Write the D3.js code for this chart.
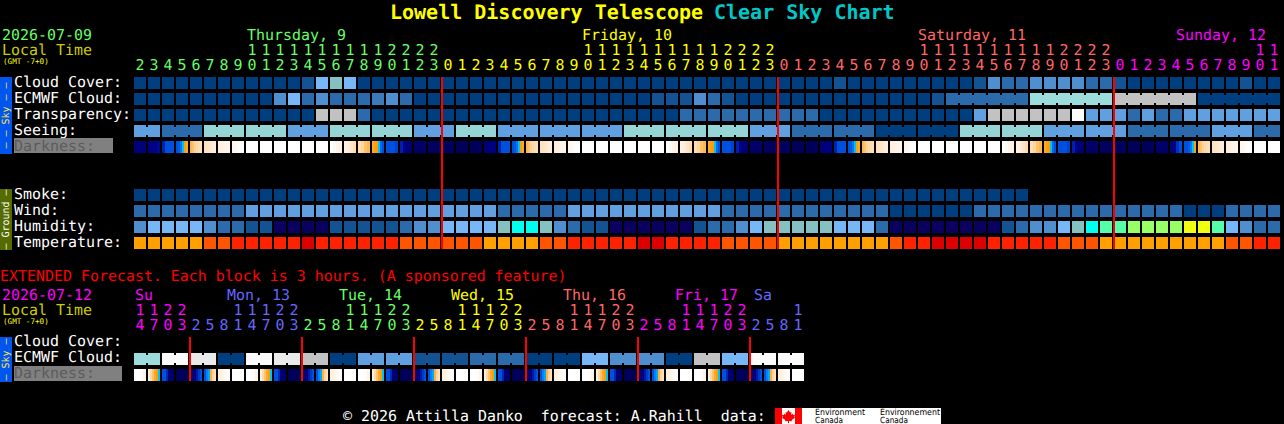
<!DOCTYPE html>
<html>
<head>
<meta charset="utf-8">
<script src="https://cdn.jsdelivr.net/npm/d3@7/dist/d3.min.js"></script>
<style>
html,body{margin:0;padding:0;background:#000;overflow:hidden}
svg{display:block}
text{font-family:"DejaVu Sans Mono",monospace;white-space:pre;text-rendering:geometricPrecision}
</style>
</head>
<body>
<svg id="c" width="1284" height="424"></svg>
<script>
// ---------- main forecast: one entry per hour ----------
const hours = [2,3,4,5,6,7,8,9,10,11,12,13,14,15,16,17,18,19,20,21,22,23,
 0,1,2,3,4,5,6,7,8,9,10,11,12,13,14,15,16,17,18,19,20,21,22,23,
 0,1,2,3,4,5,6,7,8,9,10,11,12,13,14,15,16,17,18,19,20,21,22,23,
 0,1,2,3,4,5,6,7,8,9,10,11];
const dayNames = ["Thursday, 9","Friday, 10","Saturday, 11","Sunday, 12"];
const dayStarts = [0,22,46,70];

const cloud = [0,0,0,0,0,0,0,0,0,0,0,0,1,6,7,6,0,0,0,0,0,0,
 0,0,0,0,0,0,0,0,0,0,0,0,0,0,0,0,0,0,0,0,0,0,0,0,
 0,0,0,0,1,0,0,0,0,0,0,0,0,0,1,4,2,2,4,4,4,4,2,2,
 1,0,0,0,0,0,0,0,0,1,0,0];
const ecmwfHourly = [0,0,0,0,0,0,0,0,0,0,4,6,2,4,2,2,2,3,4,2,0,0,
 0,0,0,0,0,0,0,0,0,0,0,0,0,0,0,1,1,1,4,2,1,0,0,0,
 0,0,0,0,0,0,0,0,0,0,0,1];
const ecmwfSpans = [6,6,6,6];
const ecmwfSpanLevels = [2,12,8,0];
const transparency = [0,0,0,0,0,0,0,0,0,0,0,0,0,8,8,8,2,0,0,0,0,0,
 0,0,0,0,0,0,0,0,0,0,0,0,0,0,0,0,0,2,2,2,2,2,2,2,
 2,2,2,0,0,0,0,0,0,0,0,0,0,0,5,8,8,8,8,8,8,10,5,5,
 5,2,5,2,2,5,5,5,5,5,5,5];
const seeingSpans = [2,3,3,3,3,3,3,3,3,3,3,3,3,3,3,3,3,3,3,3,3,3,3,3,3,3,3,2];
const seeingLevels = [5,2,11,11,5,11,11,5,11,5,5,5,11,11,11,5,2,2,0,0,11,11,5,5,2,2,5,2];
const darkness = [
 [.07],[.09,.1,.1,.11],[.14,.2,.2,.2],[.2,.22,.28,.35,.4,.43],[.47,.5,.55,.58,.6,.62],[.63,.65,.67,.7],
 [.72,.75,.8,.82],[.85,.9,.95,1],[1],[1],[1],[1],[1],[1],[1,.9,.8,.75],[.75,.7,.65,.6],[.6,.55,.5,.47],
 [.43,.41,.4,.35,.25,.2],[.2,.2,.2,.18],[.14,.1,.08,.05],[.03],[.02],
 [.01],[0],[0],[.06,.09],[.14,.2,.2,.2],[.2,.22,.28,.35,.4,.43],[.47,.5,.55,.58,.6,.62],[.63,.65,.67,.7],
 [.72,.75,.8,.82],[.85,.9,.95,1],[1],[1],[1],[1],[1],[1],[1,.9,.8,.75],[.75,.7,.65,.6],[.6,.55,.5,.47],
 [.43,.41,.4,.35,.25,.2],[.2,.2,.2,.18],[.14,.1,.08,.05],[.03],[.02],
 [.01],[0],[0],[.06,.09],[.14,.2,.2,.2],[.2,.22,.28,.35,.4,.43],[.47,.5,.55,.58,.6,.62],[.63,.65,.67,.7],
 [.72,.75,.8,.82],[.85,.9,.95,1],[1],[1],[1],[1],[1],[1],[1,.9,.8,.75],[.75,.7,.65,.6],[.6,.55,.5,.47],
 [.43,.41,.4,.35,.25,.2],[.2,.2,.2,.18],[.14,.1,.08,.05],[.03],[.02],
 [.01],[0],[0],[.04],[.05,.1,.16,.2],[.2,.2,.22,.28,.35,.4],[.47,.5,.55,.58,.6,.62],[.63,.65,.67,.7],
 [.72,.75,.8,.82],[.85,.9,.95,1],[1],[1]
];
const smoke = [0,0,0,0,0,0,0,0,0,0,0,0,0,0,0,0,0,0,0,0,0,0,0,0,0,0,0,0,0,0,0,0,
 0,0,0,0,0,0,0,0,0,0,0,0,0,0,0,0,0,0,0,0,0,0,0,0,0,0,0,0,0,0,0,0];
const wind = [2,2,2,2,2,2,2,2,5,5,5,5,5,5,5,5,5,5,5,5,5,5,
 5,5,5,5,2,2,2,2,2,5,5,5,5,5,5,5,5,5,5,5,2,2,2,2,
 2,2,2,2,2,2,2,2,0,0,0,0,0,0,2,2,2,2,2,2,2,2,2,2,
 2,2,2,2,2,0,0,0,2,2,2,2];
const humidity = [4,6,6,6,6,4,2,2,1,1,13,13,13,13,1,1,1,1,1,2,4,4,
 6,6,6,6,7,14,14,7,4,2,1,1,13,13,13,13,13,13,1,2,2,4,6,7,
 7,7,7,7,6,6,6,2,13,13,13,13,13,13,13,13,1,2,4,4,6,7,14,15,
 15,16,16,16,16,17,17,15,6,4,2,2];
const temperature = [0,0,0,0,0,1,1,2,2,2,2,2,3,2,2,2,2,2,2,1,1,1,
 1,1,1,0,0,0,0,1,1,2,2,2,2,2,3,3,2,2,2,2,1,1,1,1,
 0,0,0,0,0,0,0,0,1,2,2,3,3,3,3,2,2,2,2,2,1,1,1,0,
 0,0,0,0,0,0,0,0,1,1,2,2];

// ---------- extended forecast: one entry per 3 hours ----------
const extHours = [14,17,20,23,
 2,5,8,11,14,17,20,23, 2,5,8,11,14,17,20,23, 2,5,8,11,14,17,20,23,
 2,5,8,11,14,17,20,23, 2,5,8,11,14,17,20,23, 2,5,8,11];
const extDayNames = ["Su","Mon, 13","Tue, 14","Wed, 15","Thu, 16","Fri, 17","Sa"];
const extDayStarts = [0,4,12,20,28,36,44];
const extEcmwfSpans = [2,2,2,2,2,2,2,2,2,2,2,2,2,2,2,2,2,2,2,2,2,2,2,2];
const extEcmwf = [12,10,9,0,10,9,8,0,5,5,1,1,2,2,0,0,6,4,4,0,8,6,10,10];
const extDarkness = [
 [1,1,.95,.8],[.7,.6,.5,.43,.4,.35],[.2,.2,.15,.08,.03,.03],[0],
 [.02,.05,.1,.13,.17,.2],[.2,.3,.33,.45,.55,.62],[.72,.8,.9,1],[1],
 [1,1,.95,.8],[.7,.6,.5,.43,.4,.35],[.2,.2,.15,.08,.03,.03],[0],
 [.02,.05,.1,.13,.17,.2],[.2,.3,.33,.45,.55,.62],[.72,.8,.9,1],[1],
 [1,1,.95,.8],[.7,.6,.5,.43,.4,.35],[.2,.2,.15,.08,.03,.03],[0],
 [.02,.05,.1,.13,.17,.2],[.2,.3,.33,.45,.55,.62],[.72,.8,.9,1],[1],
 [1,1,.95,.8],[.7,.6,.5,.43,.4,.35],[.2,.2,.15,.08,.03,.03],[0],
 [.02,.05,.1,.13,.17,.2],[.2,.3,.33,.45,.55,.62],[.72,.8,.9,1],[1],
 [1,1,.95,.8],[.7,.6,.5,.43,.4,.35],[.2,.2,.15,.08,.03,.03],[0],
 [.02,.05,.1,.13,.17,.2],[.2,.3,.33,.45,.55,.62],[.72,.8,.9,1],[1],
 [1,1,.95,.8],[.7,.6,.5,.43,.4,.35],[.2,.2,.15,.08,.03,.03],[0],
 [.02,.05,.1,.13,.17,.2],[.2,.3,.33,.45,.55,.62],[.72,.8,.9,1],[1]
];

// ---------- scales ----------
const x = d3.scaleLinear().domain([0,82]).range([134,1282]);
const cell = 12;
const sky = d3.scaleOrdinal()
  .domain(d3.range(18))
  .range(["#003f7f","#135393","#2b6bab","#3b7bbb","#4f8fcf","#60a0e0","#77b7f7","#85c1c1",
          "#c2c2c2","#eaeaea","#fbfbfb","#95d5d5","#9cdcdc","#0a0060","#00ffee","#55ffaa","#99ff66","#eeff11"]);
const heat = d3.scaleOrdinal().domain([0,1,2,3]).range(["#ffa000","#ff5500","#ff2200","#dd0000"]);
const dark = d3.scaleLinear()
  .domain([0,.1,.2,.3,.35,.4,.45,.55,.7,1])
  .range(["#00005a","#000088","#0050e0","#0080ff","#00c0ff","#ffa000","#ffb040","#ffd49a","#ffeedd","#ffffff"]);
const dayColor = d3.scaleOrdinal()
  .domain(["green","yellow","red","magenta","blue"])
  .range(["#66ff66","#ffff00","#ff6666","#ff00ff","#6666ff"]);
const mainDayColors = ["green","yellow","red","magenta"];
const extDayColors = ["magenta","blue","green","yellow","red","magenta","blue"];

const svg = d3.select("#c");
svg.append("rect").attr("width",1284).attr("height",424).attr("fill","#000");
const font = 14.95;

function label(t,px,py,fill,size,extra){
  const s = svg.append("text").attr("x",px).attr("y",py).attr("fill",fill)
    .attr("font-size",size||font).text(t);
  if(extra) extra(s);
  return s;
}
function cells(values,y,scale){
  svg.append("g").attr("shape-rendering","crispEdges").selectAll("rect").data(values).join("rect")
    .attr("x",(d,i)=>x(i)).attr("y",y).attr("width",cell).attr("height",cell).attr("fill",d=>scale(d));
}
function spans(lengths,levels,start,y,scale){
  let at = start;
  const g = svg.append("g").attr("shape-rendering","crispEdges");
  lengths.forEach((len,k)=>{
    d3.range(len).forEach(j=>{
      g.append("rect").attr("x",x(at+j)).attr("y",y).attr("width",cell).attr("height",cell).attr("fill",scale(levels[k]));
      if(j<len-1) g.append("rect").attr("x",x(at+j)+cell).attr("y",y+2).attr("width",2).attr("height",cell-4).attr("fill",scale(levels[k]));
    });
    at += len;
  });
}
function shade(values,y){
  const g = svg.append("g").attr("shape-rendering","crispEdges");
  values.forEach((samples,i)=>{
    const b = d3.scaleBand().domain(d3.range(samples.length)).range([x(i),x(i)+cell]);
    samples.forEach((v,j)=>g.append("rect").attr("x",b(j)).attr("y",y).attr("width",Math.ceil(b.bandwidth()))
      .attr("height",cell).attr("fill",dark(v)));
  });
}
function hourDigits(list,starts,colors,yTens,yUnits){
  const colorOf = i=>dayColor(colors[d3.bisectRight(starts,i)-1]);
  list.forEach((h,i)=>{
    const cx = x(i)+cell/2;
    if(h>=10) label(String(Math.floor(h/10)),cx,yTens,colorOf(i),font,s=>s.attr("text-anchor","middle"));
    label(String(h%10),cx,yUnits,colorOf(i),font,s=>s.attr("text-anchor","middle"));
  });
}
function midnight(list,y0,y1){
  const g = svg.append("g").attr("shape-rendering","crispEdges");
  list.forEach(i=>g.append("rect").attr("x",x(i)-1).attr("y",y0).attr("width",2).attr("height",y1-y0).attr("fill","#ff0000"));
}
function sideBar(y0,y1,fill,txt,txtFill){
  svg.append("rect").attr("x",0).attr("y",y0).attr("width",12).attr("height",y1-y0).attr("fill",fill).attr("shape-rendering","crispEdges");
  const cy=(y0+y1)/2;
  svg.append("text").attr("transform",`translate(9,${cy}) rotate(-90)`).attr("text-anchor","middle")
    .attr("font-size",10).attr("fill",txtFill).text(txt);
}

// ---------- title ----------
label("Lowell Discovery Telescope",390,19,"#ffff00",20,s=>s.attr("font-weight","bold"));
label("Clear Sky Chart",714,19,"#00c8c8",20,s=>s.attr("font-weight","bold"));

// ---------- main header ----------
label("2026-07-09",2,40,"#66ff66");
label("Local Time",2,55,"#cccc00");
label("(GMT -7+0)",3,64,"#ffff00",7.6);
const mainLabelAt = [8.07,32,56,74.43];
dayNames.forEach((n,k)=>label(n,x(mainLabelAt[k]),40,dayColor(mainDayColors[k])));
hourDigits(hours,dayStarts,mainDayColors,55,70);

// ---------- main rows ----------
const rowNames = ["Cloud Cover:","ECMWF Cloud:","Transparency:","Seeing:"];
rowNames.forEach((n,k)=>label(n,14,87+16*k,"#ffffff"));
svg.append("rect").attr("x",14).attr("y",138).attr("width",99).attr("height",15).attr("fill","#808080").attr("shape-rendering","crispEdges");
label("Darkness:",14,151,"#5c5c5c");
cells(cloud,77,sky);
cells(ecmwfHourly,93,sky);
spans(ecmwfSpans,ecmwfSpanLevels,ecmwfHourly.length,93,sky);
cells(transparency,109,sky);
spans(seeingSpans,seeingLevels,0,125,sky);
shade(darkness,141);
sideBar(77,154,"#0055ee","– – Sky – –","#ffe840");

["Smoke:","Wind:","Humidity:","Temperature:"].forEach((n,k)=>label(n,14,199+16*k,"#ffffff"));
cells(smoke,189,sky);
cells(wind,205,sky);
cells(humidity,221,sky);
cells(temperature,237,heat);
sideBar(189,250,"#556b00","– Ground –","#ffffff");
midnight([22,46,70],77,249);

// ---------- extended ----------
label("EXTENDED Forecast. Each block is 3 hours. (A sponsored feature)",0,281,"#ff0000");
label("2026-07-12",2,300,"#ff00ff");
label("Local Time",2,315,"#cccc00");
label("(GMT -7+0)",3,324,"#ffff00",7.6);
const extLabelAt = [0.07,6.64,14.64,22.64,30.64,38.64,44.29];
extDayNames.forEach((n,k)=>label(n,x(extLabelAt[k]),300,dayColor(extDayColors[k])));
hourDigits(extHours,extDayStarts,extDayColors,315,330);
label("Cloud Cover:",14,346,"#ffffff");
label("ECMWF Cloud:",14,362,"#ffffff");
svg.append("rect").attr("x",14).attr("y",366).attr("width",108).attr("height",15).attr("fill","#808080").attr("shape-rendering","crispEdges");
label("Darkness:",14,378,"#5c5c5c");
spans(extEcmwfSpans,extEcmwf,0,353,sky);
shade(extDarkness,369);
sideBar(337,382,"#0055ee","– Sky –","#ffe840");
midnight([4,12,20,28,36,44],337,381);

// ---------- footer ----------
label("© 2026 Attilla Danko  forecast: A.Rahill  data:",343,421,"#ffffff");
const logo = svg.append("g").attr("shape-rendering","crispEdges");
logo.append("rect").attr("x",775).attr("y",408).attr("width",166).attr("height",16).attr("fill","#ffffff");
logo.append("rect").attr("x",775).attr("y",408).attr("width",7).attr("height",16).attr("fill","#ff0000");
logo.append("rect").attr("x",795).attr("y",408).attr("width",7).attr("height",16).attr("fill","#ff0000");
svg.append("path").attr("fill","#ff0000")
  .attr("d","M788.5 410l1.6 2.6 1.4-.6-.5 3 1.6-1.4.5 1.4 2-.3-.8 2.4.8.6-3.4 2.4.3 1.2-3-.4v2.4h-1v-2.4l-3 .4.3-1.2-3.4-2.4.8-.6-.8-2.4 2 .3.5-1.4 1.6 1.4-.5-3 1.4.6z");
[["Environment",815,50],["Environnement",880,60]].forEach(([t,px,w])=>{
  svg.append("text").attr("x",px).attr("y",415).attr("font-size",8.5).attr("fill","#000")
    .attr("textLength",w).attr("lengthAdjust","spacingAndGlyphs")
    .style("font-family","'DejaVu Sans',sans-serif").text(t);
  svg.append("text").attr("x",px).attr("y",422.5).attr("font-size",8.5).attr("fill","#000")
    .attr("textLength",28).attr("lengthAdjust","spacingAndGlyphs")
    .style("font-family","'DejaVu Sans',sans-serif").text("Canada");
});
</script>
</body>
</html>
